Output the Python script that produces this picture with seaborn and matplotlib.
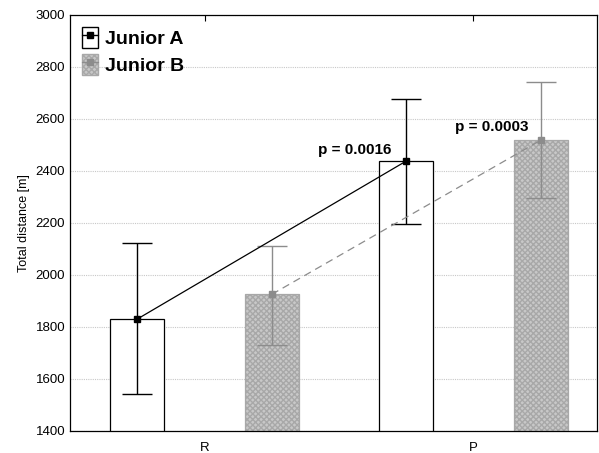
import pandas as pd
import seaborn as sns
import matplotlib.pyplot as plt
from matplotlib.patches import Rectangle
from matplotlib.lines import Line2D

phases = ["R", "P"]
groups = ["Junior A", "Junior B"]
mean_a = [1830, 2438]
mean_b = [1925, 2518]
err_lo_a = [1542, 2196]
err_hi_a = [2122, 2678]
err_lo_b = [1731, 2296]
err_hi_b = [2112, 2742]
p_labels = ["p = 0.0016", "p = 0.0003"]

df = pd.DataFrame({
    "phase": phases * 2,
    "group": [groups[0]] * 2 + [groups[1]] * 2,
    "distance": mean_a + mean_b,
})

sns.set_style("white")
plt.rcParams["font.family"] = ["Liberation Sans", "DejaVu Sans"]
plt.rcParams["text.color"] = "black"
plt.rcParams["axes.labelcolor"] = "black"
plt.rcParams["hatch.color"] = "#b4b4b4"

fig = plt.figure(figsize=(5.99, 4.53), dpi=100)
ax = fig.add_axes([0.117, 0.049, 0.88, 0.918])

gray = "#a8a8a8"
sns.barplot(data=df, x="phase", y="distance", hue="group", order=phases,
            hue_order=groups, palette=["white", "#c8c8c8"], width=1.0, gap=0.6,
            errorbar=None, legend=False, ax=ax)

# style bars per group
for cont, ec in zip(ax.containers, ["black", gray]):
    for bar in cont:
        bar.set_edgecolor(ec)
        bar.set_linewidth(0.9)
        bar.set_zorder(2)
for bar in ax.containers[1]:
    bar.set_hatch("xxxxxx")

xa = [bar.get_x() + bar.get_width() / 2 for bar in ax.containers[0]]
xb = [bar.get_x() + bar.get_width() / 2 for bar in ax.containers[1]]

ax.errorbar(xa, mean_a, yerr=[[m - l for m, l in zip(mean_a, err_lo_a)],
                              [h - m for m, h in zip(mean_a, err_hi_a)]],
            fmt="none", ecolor="black", elinewidth=1, capsize=10.5, capthick=1, zorder=3)
ax.errorbar(xb, mean_b, yerr=[[m - l for m, l in zip(mean_b, err_lo_b)],
                              [h - m for m, h in zip(mean_b, err_hi_b)]],
            fmt="none", ecolor="#8c8c8c", elinewidth=1, capsize=10.5, capthick=1, zorder=3)

ax.plot(xa, mean_a, color="black", lw=0.9, marker="s", ms=5, zorder=4)
ax.plot(xb, mean_b, color="#8c8c8c", lw=0.9, ls=(0, (6, 4)), marker="s", ms=5, zorder=4)

ax.text(xa[1] - 0.33, mean_a[1] + 28, p_labels[0], fontsize=11, fontweight="bold")
ax.text(xb[1] - 0.32, mean_b[1] + 35, p_labels[1], fontsize=11, fontweight="bold")

ax.set_ylim(1400, 3000)
ax.set_xlim(-0.5, 1.46)
ax.set_yticks(range(1400, 3001, 200))
ax.yaxis.grid(True, color="#c8c8c8", ls=(0, (1, 1)), lw=0.8)
ax.set_axisbelow(True)
ax.set_xlabel("")
ax.set_ylabel("Total distance [m]", fontsize=9)
ax.tick_params(axis="both", labelsize=9.5, direction="in", length=4,
               colors="black", labelcolor="black")
ax.tick_params(axis="x", top=True, pad=8)
ax.tick_params(axis="y", length=0)
for s in ax.spines.values():
    s.set_color("black")
    s.set_linewidth(0.9)

handles = [
    (Rectangle((0, 0), 1, 1, facecolor="white", edgecolor="black"),
     Line2D([], [], color="black", marker="s", ms=5, lw=1)),
    (Rectangle((0, 0), 1, 1, facecolor="#c8c8c8", edgecolor=gray, hatch="xxxxxx"),
     Line2D([], [], color="#8c8c8c", marker="s", ms=5, lw=1)),
]
ax.legend(handles, groups, loc="upper left", frameon=False,
          prop={"weight": "bold", "size": 14}, handlelength=0.85, handleheight=1.3,
          handletextpad=0.35, borderaxespad=0.2, labelspacing=0.3)

fig.savefig("out.png", dpi=100)
